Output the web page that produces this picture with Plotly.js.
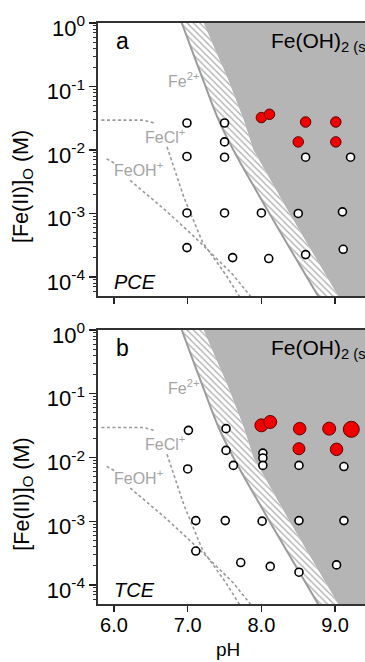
<!DOCTYPE html>
<html><head><meta charset="utf-8">
<script src="https://cdn.plot.ly/plotly-3.0.1.min.js"></script>
<style>html,body{margin:0;padding:0;overflow:hidden;background:#fff}#chart{width:365px;height:662px}</style>
</head><body><div id="chart"></div>
<script>
// ---------- axis ticks ----------
const PH_TICKS = [6, 7, 8, 9];
const PH_TICK_LABELS = ['6.0', '7.0', '8.0', '9.0'];
const CONC_TICKS = [1, 0.1, 0.01, 0.001, 0.0001];
const CONC_TICK_LABELS = ['10<sup>0</sup>', '10<sup>-1</sup>', '10<sup>-2</sup>', '10<sup>-3</sup>', '10<sup>-4</sup>'];

// ---------- Fe(OH)2(s) solubility band (same in both panels) ----------
const bandConc    = [1.26, 1, 0.126, 0.0295, 0.01, 0.001, 0.00005, 0.00004];
const bandLeftPH  = [6.89, 6.92, 7.21, 7.42, 7.62, 8.11, 8.77, 8.82];
const bandRightPH = [7.18, 7.21, 7.55, 7.76, 7.89, 8.38, 9.04, 9.09];

// ---------- speciation dashed lines ----------
const feClTopPH   = [5.83, 6.40, 6.56];
const feClTopConc = [0.0295, 0.0295, 0.0263];
const feClLowPH   = [6.72, 6.95, 7.20, 7.52, 7.70, 7.73];
const feClLowConc = [0.0112, 0.00178, 0.000355, 0.000107, 0.00005, 0.000045];
const feOHTopPH   = [5.90, 6.01];
const feOHTopConc = [0.00724, 0.00617];
const feOHLowPH   = [6.22, 6.70, 7.12, 7.62, 7.85, 7.88];
const feOHLowConc = [0.00331, 0.00112, 0.000398, 0.000107, 0.00005, 0.000045];

// ---------- panel a (PCE) ----------
const pceOpenPH   = [6.99, 7.50, 7.50, 6.99, 7.50, 8.60, 9.21, 6.99, 7.50, 8.00, 8.50, 9.10, 6.99, 7.61, 8.10, 8.60, 9.11];
const pceOpenConc = [0.0266, 0.0266, 0.0134, 0.0079, 0.0077, 0.0077, 0.0077, 0.00102, 0.00102, 0.00102, 0.00100, 0.00106, 0.00029, 0.000202, 0.000195, 0.000225, 0.000273];
const pceRedPH    = [8.00, 8.11, 8.60, 9.01, 8.50, 9.01];
const pceRedConc  = [0.0324, 0.0365, 0.0276, 0.0276, 0.0134, 0.0134];
const pceRedSize  = [10.5, 10.5, 10.5, 10.5, 10.5, 10.5];

// ---------- panel b (TCE) ----------
const tceOpenPH   = [7.01, 7.52, 7.52, 7.00, 7.62, 8.02, 8.02, 8.02, 8.51, 9.12, 7.11, 7.51, 8.01, 8.51, 9.12, 7.11, 7.72, 8.12, 8.51, 9.02];
const tceOpenConc = [0.0266, 0.0283, 0.0129, 0.0066, 0.0075, 0.0117, 0.0098, 0.0075, 0.0075, 0.0072, 0.00102, 0.00102, 0.00100, 0.00102, 0.00102, 0.00034, 0.000224, 0.000195, 0.000158, 0.000206];
const tceRedPH    = [8.00, 8.12, 8.52, 8.92, 9.22, 8.51, 9.02];
const tceRedConc  = [0.0319, 0.036, 0.0283, 0.0283, 0.0276, 0.0137, 0.0134];
const tceRedSize  = [13, 13, 12.5, 13, 16, 12, 12.5];

const PANELS = [
  {xa: 'x', ya: 'y', letter: 'a', name: 'PCE', openPH: pceOpenPH, openC: pceOpenConc, redPH: pceRedPH, redC: pceRedConc, redS: pceRedSize},
  {xa: 'x2', ya: 'y2', letter: 'b', name: 'TCE', openPH: tceOpenPH, openC: tceOpenConc, redPH: tceRedPH, redC: tceRedConc, redS: tceRedSize}
];

const FONT = 'Liberation Sans, Arial, sans-serif';
const X_RANGE = [5.783, 9.406];
const LOG_RANGE = [-4.3, 0];
const X_FAR = 9.8;

const traces = [];
const annotations = [];
PANELS.forEach(p => {
  const lo = bandConc[bandConc.length - 1], hi = bandConc[0];
  // gray precipitate region
  traces.push({x: bandRightPH.concat([X_FAR, X_FAR]), y: bandConc.concat([lo, hi]),
    xaxis: p.xa, yaxis: p.ya, mode: 'lines', fill: 'toself', fillcolor: '#b5b5b5',
    line: {width: 0, color: '#b5b5b5'}, hoverinfo: 'skip', showlegend: false});
  // hatched band
  traces.push({x: bandLeftPH.concat(bandRightPH.slice().reverse()), y: bandConc.concat(bandConc.slice().reverse()),
    xaxis: p.xa, yaxis: p.ya, mode: 'lines', fill: 'toself', fillcolor: '#ffffff',
    fillpattern: {shape: '\\', fgcolor: '#b0b0b0', bgcolor: '#ffffff', size: 4.5, solidity: 0.3},
    line: {width: 0, color: '#ffffff'}, hoverinfo: 'skip', showlegend: false});
  // boundary line
  traces.push({x: bandLeftPH, y: bandConc, xaxis: p.xa, yaxis: p.ya, mode: 'lines',
    line: {color: '#9c9c9c', width: 2, shape: 'spline'}, hoverinfo: 'skip', showlegend: false});
  // dashed speciation lines
  [[feClTopPH, feClTopConc], [feClLowPH, feClLowConc], [feOHTopPH, feOHTopConc], [feOHLowPH, feOHLowConc]].forEach(d => {
    traces.push({x: d[0], y: d[1], xaxis: p.xa, yaxis: p.ya, mode: 'lines',
      line: {color: '#999999', width: 1.6, dash: '3px,2.5px'}, hoverinfo: 'skip', showlegend: false});
  });
  // open circles
  traces.push({x: p.openPH, y: p.openC, xaxis: p.xa, yaxis: p.ya, mode: 'markers',
    marker: {size: 8, color: '#ffffff', opacity: 1, line: {color: '#000000', width: 1.6}}, showlegend: false});
  // red circles
  traces.push({x: p.redPH, y: p.redC, xaxis: p.xa, yaxis: p.ya, mode: 'markers',
    marker: {size: p.redS, color: '#f20000', opacity: 1, line: {color: '#600000', width: 1}}, showlegend: false});

  // labels
  const grey = '#a4a4a4';
  annotations.push(
    {xref: p.xa, yref: p.ya, x: 6.0, y: -0.28, xanchor: 'left', yanchor: 'middle', showarrow: false,
     text: p.letter, font: {family: FONT, size: 23, color: '#000'}},
    {xref: p.xa, yref: p.ya, x: 8.10, y: -0.30, xanchor: 'left', yanchor: 'middle', showarrow: false,
     text: 'Fe(OH)<sub>2 (s)</sub>', font: {family: FONT, size: 21, color: '#000'}},
    {xref: p.xa, yref: p.ya, x: 5.97, y: -4.08, xanchor: 'left', yanchor: 'middle', showarrow: false,
     text: '<i>' + p.name + '</i>', font: {family: FONT, size: 20, color: '#000'}},
    {xref: p.xa, yref: p.ya, x: 6.70, y: -0.90, xanchor: 'left', yanchor: 'middle', showarrow: false,
     text: 'Fe<sup>2+</sup>', font: {family: FONT, size: 16, color: grey}},
    {xref: p.xa, yref: p.ya, x: 6.40, y: -1.78, xanchor: 'left', yanchor: 'middle', showarrow: false,
     text: 'FeCl<sup>+</sup>', font: {family: FONT, size: 16, color: grey}},
    {xref: p.xa, yref: p.ya, x: 5.97, y: -2.30, xanchor: 'left', yanchor: 'middle', showarrow: false,
     text: 'FeOH<sup>+</sup>', font: {family: FONT, size: 16, color: grey}},
    {xref: 'paper', yref: p.ya + ' domain', x: -0.28, y: 0.40, xanchor: 'center', yanchor: 'middle', showarrow: false,
     textangle: -90, text: '[Fe(II)]<sub>O</sub> (M)', font: {family: FONT, size: 21.5, color: '#000'}}
  );
});
annotations.push({xref: 'x2', yref: 'paper', x: 7.55, y: -0.079, xanchor: 'center', yanchor: 'middle', showarrow: false,
  text: 'pH', font: {family: FONT, size: 19, color: '#000'}});

// minor log ticks (axis decoration)
const minorVals = [];
for (let e = -5; e <= -1; e++) for (let m = 2; m <= 9; m++) minorVals.push(m * Math.pow(10, e));

function xAxis(anchor, showLabels) {
  return {domain: [0, 1], range: X_RANGE, anchor: anchor, tickmode: 'array', tickvals: PH_TICKS, ticktext: PH_TICK_LABELS,
    showticklabels: showLabels, ticks: 'outside', ticklen: 6, tickwidth: 1.3, tickcolor: '#222', ticklabelstandoff: -4,
    showline: true, mirror: true, linecolor: '#333', linewidth: 1.6, showgrid: false, zeroline: false,
    tickfont: {family: FONT, size: 20, color: '#000'}};
}
function yAxis(anchor, domain) {
  return {type: 'log', domain: domain, range: LOG_RANGE, anchor: anchor, tickmode: 'array', tickvals: CONC_TICKS, ticktext: CONC_TICK_LABELS,
    ticks: 'outside', ticklen: 7, tickwidth: 1.3, tickcolor: '#222', ticklabelshift: 5,
    minor: {tickmode: 'array', tickvals: minorVals, ticks: 'outside', ticklen: 3.5, tickwidth: 1, tickcolor: '#333', showgrid: false},
    showline: true, mirror: false, linecolor: '#333', linewidth: 1.6, showgrid: false, zeroline: false,
    tickfont: {family: FONT, size: 22, color: '#000'}};
}

const layout = {
  width: 365, height: 662,
  margin: {l: 98, r: 0, t: 23, b: 58},
  paper_bgcolor: '#ffffff', plot_bgcolor: '#ffffff',
  font: {family: FONT, color: '#000'},
  showlegend: false,
  xaxis: xAxis('y', false),
  yaxis: yAxis('x', [0.5301, 1]),
  xaxis2: xAxis('y2', true),
  yaxis2: yAxis('x2', [0, 0.4716]),
  annotations: annotations
};

Plotly.newPlot('chart', traces, layout, {displayModeBar: false, staticPlot: true});
</script></body></html>
